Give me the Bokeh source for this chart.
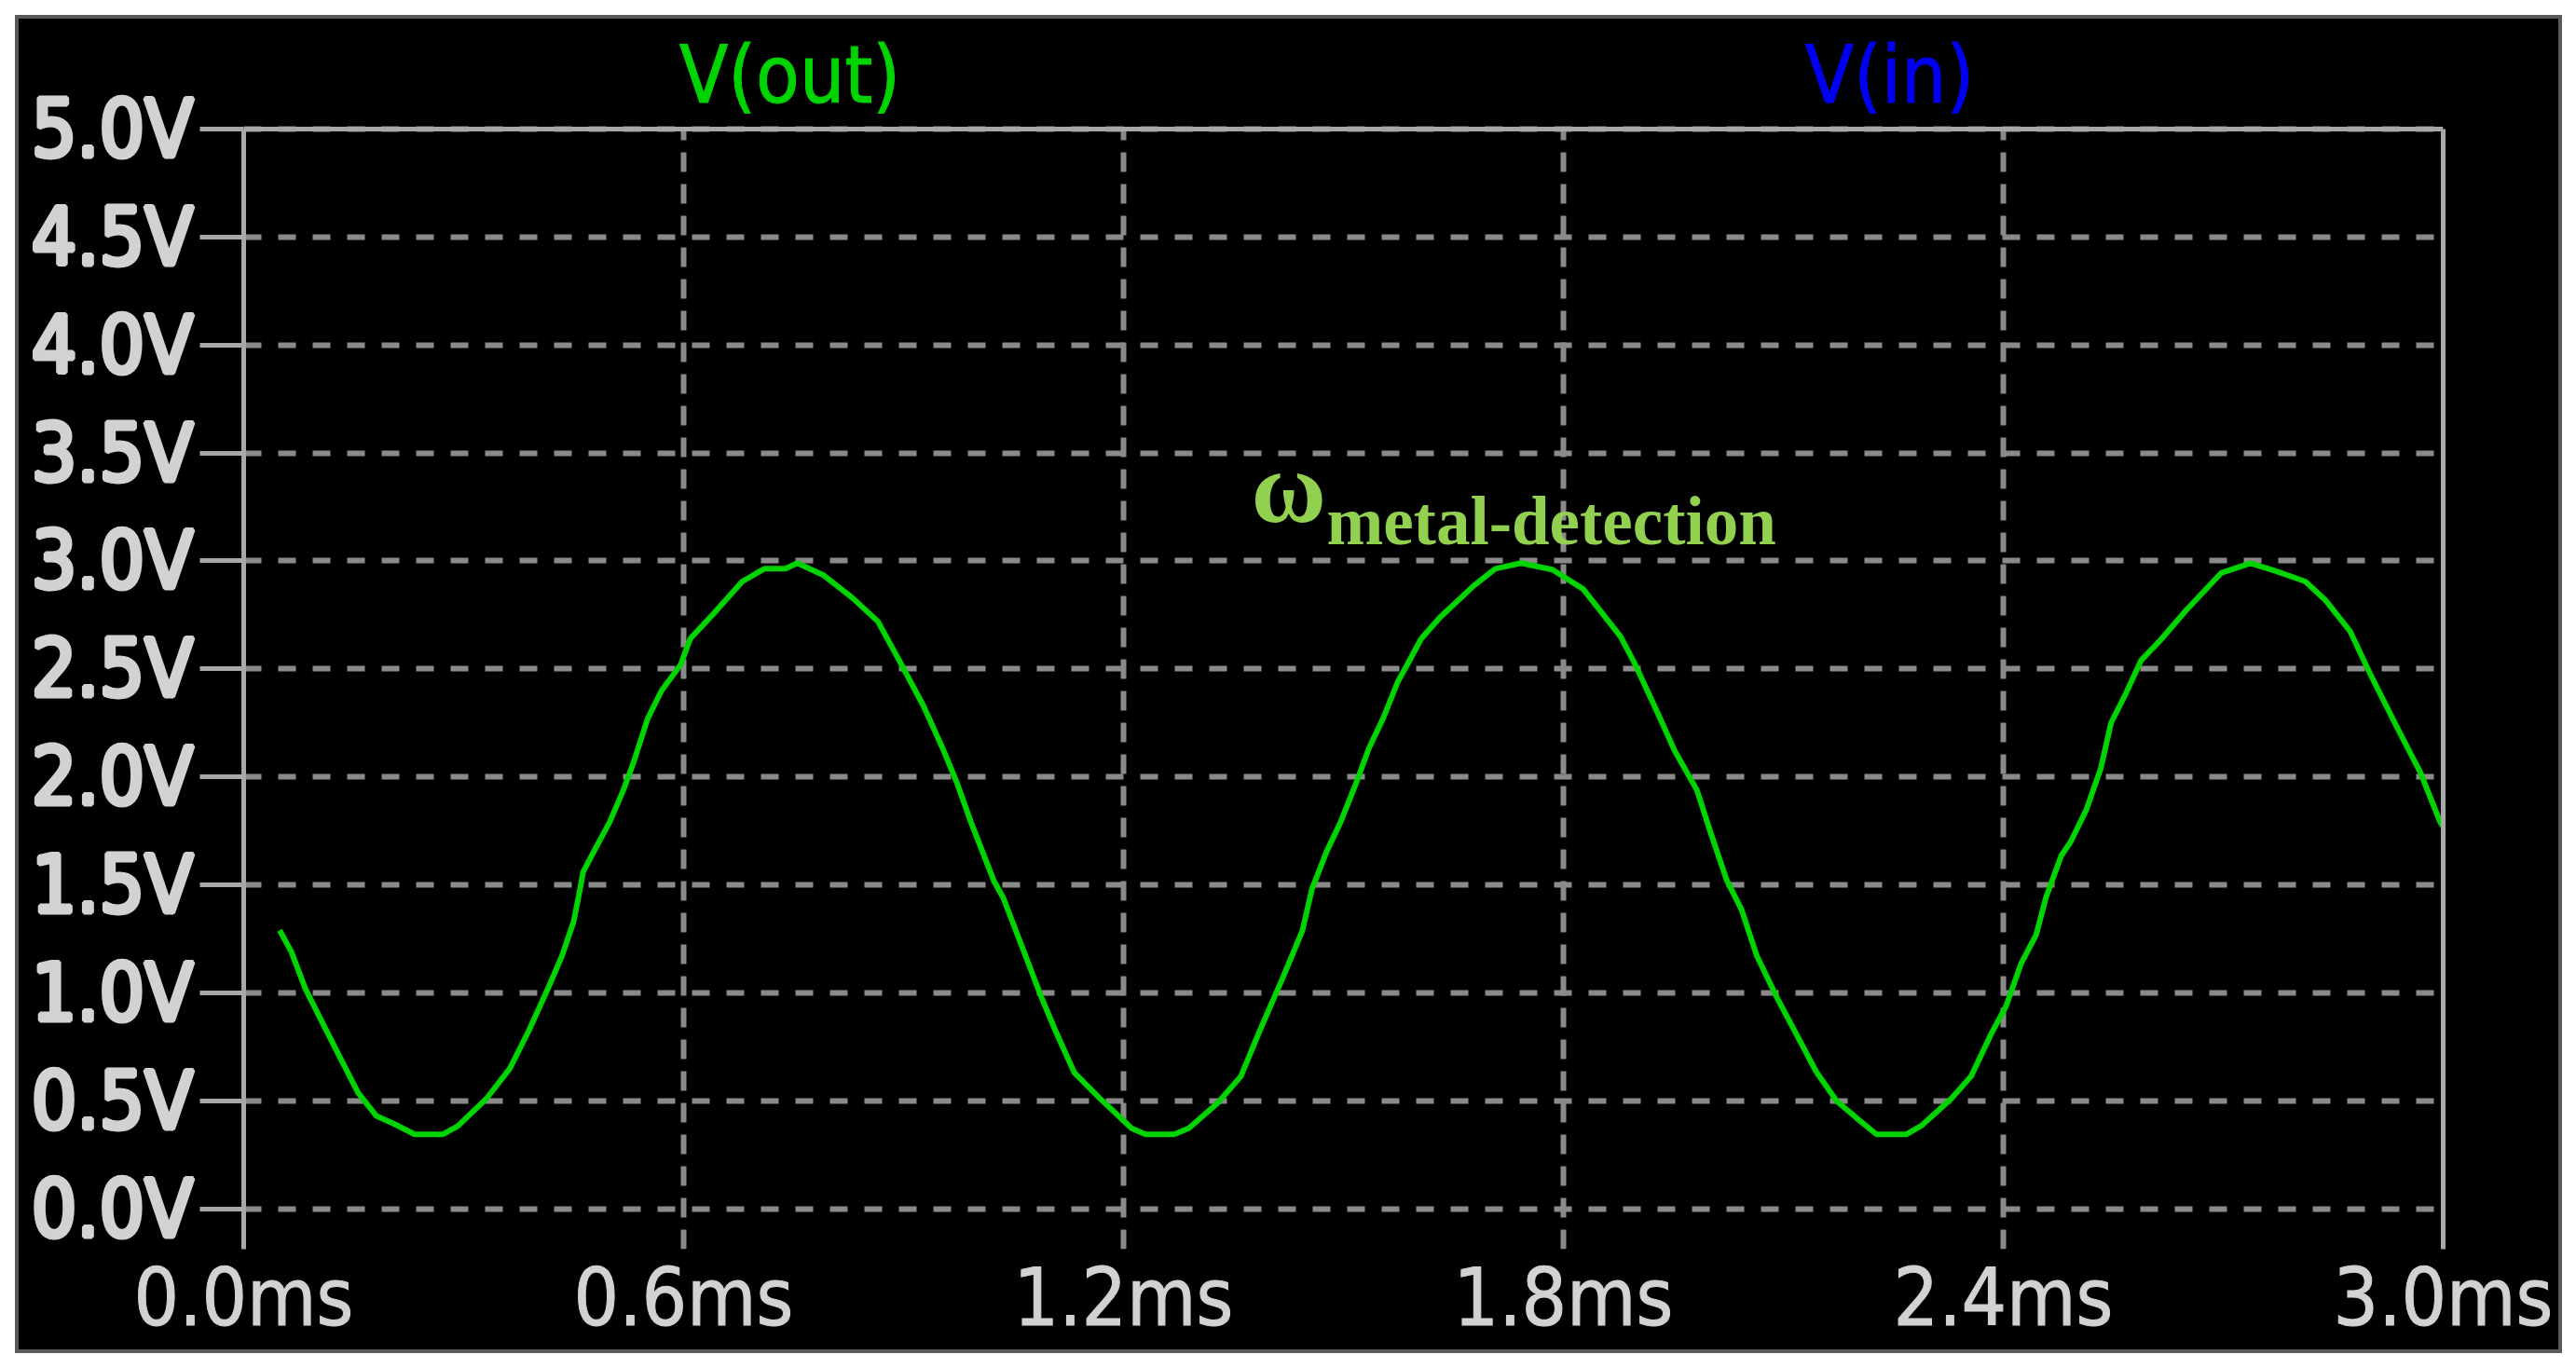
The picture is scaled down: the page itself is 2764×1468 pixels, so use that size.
from bokeh.plotting import figure
from bokeh.models import FixedTicker, Span, Label, Range1d, LinearAxis, Spacer
from bokeh.layouts import column, row
from bokeh.embed import file_html
from bokeh.resources import INLINE

# ---- data ----
t_ms = [0.049, 0.065, 0.084, 0.107, 0.130, 0.156, 0.181, 0.207, 0.233, 0.272,
        0.292, 0.331, 0.363, 0.389, 0.415, 0.434, 0.450, 0.457, 0.463, 0.480,
        0.499, 0.518, 0.531, 0.551, 0.570, 0.596, 0.609, 0.642, 0.680, 0.710,
        0.739, 0.755, 0.791, 0.830, 0.865, 0.894, 0.927, 0.953, 0.972, 0.992,
        1.023, 1.036, 1.062, 1.088, 1.107, 1.133, 1.166, 1.211, 1.230, 1.269,
        1.289, 1.328, 1.360, 1.386, 1.418, 1.444, 1.457, 1.477, 1.496, 1.516,
        1.535, 1.554, 1.574, 1.587, 1.606, 1.632, 1.678, 1.707, 1.742, 1.785,
        1.827, 1.878, 1.898, 1.924, 1.952, 1.982, 2.002, 2.023, 2.043, 2.064,
        2.091, 2.118, 2.145, 2.173, 2.200, 2.227, 2.268, 2.288, 2.329, 2.356,
        2.383, 2.404, 2.424, 2.445, 2.458, 2.479, 2.492, 2.513, 2.533, 2.547,
        2.567, 2.588, 2.615, 2.649, 2.697, 2.737, 2.771, 2.812, 2.839, 2.873,
        2.900, 2.934, 2.969, 2.996, 3.000]
v_out = [1.29, 1.19, 1.02, 0.864, 0.71, 0.537, 0.43, 0.39, 0.345, 0.345,
         0.383, 0.51, 0.65, 0.826, 1.02, 1.17, 1.33, 1.45, 1.56, 1.67,
         1.79, 1.94, 2.06, 2.27, 2.40, 2.52, 2.64, 2.76, 2.905, 2.964,
         2.964, 2.99, 2.934, 2.83, 2.72, 2.54, 2.33, 2.135, 1.98, 1.79,
         1.52, 1.44, 1.21, 0.98, 0.826, 0.63, 0.517, 0.373, 0.345, 0.345,
         0.373, 0.488, 0.613, 0.826, 1.076, 1.288, 1.48, 1.654, 1.79, 1.96,
         2.135, 2.27, 2.44, 2.52, 2.64, 2.74, 2.886, 2.964, 2.99, 2.96,
         2.87, 2.65, 2.52, 2.33, 2.12, 1.94, 1.73, 1.52, 1.385, 1.17,
         0.98, 0.807, 0.634, 0.498, 0.42, 0.345, 0.345, 0.384, 0.51, 0.613,
         0.807, 0.94, 1.134, 1.27, 1.44, 1.635, 1.70, 1.846, 2.04, 2.25,
         2.385, 2.54, 2.636, 2.77, 2.944, 2.99, 2.954, 2.905, 2.82, 2.675,
         2.48, 2.25, 2.02, 1.79, 1.77]

x_ticks = [0.0, 0.6, 1.2, 1.8, 2.4, 3.0]
x_tick_labels = ["0.0ms", "0.6ms", "1.2ms", "1.8ms", "2.4ms", "3.0ms"]
y_ticks = [0.0, 0.5, 1.0, 1.5, 2.0, 2.5, 3.0, 3.5, 4.0, 4.5, 5.0]
y_tick_labels = ["0.0V", "0.5V", "1.0V", "1.5V", "2.0V", "2.5V",
                 "3.0V", "3.5V", "4.0V", "4.5V", "5.0V"]
trace_names = ["V(out)", "V(in)"]
trace_colors = ["#00d400", "#0000f0"]
annotation_main = "\u03c9"
annotation_sub = "metal-detection"

x_min, x_max = 0.0, 3.0
y_min, y_axis_max = -0.187, 5.0
y_view_max = 5.4877   # frame reaches up to the trace-name strip

LABEL_FONT = "DejaVu Sans Condensed"
GRAY_TEXT = "#d2d2d2"
FRAME_GRAY = "#a8a8a8"
GRID_GRAY = "#8a8a8a"

p = figure(width=2725, height=1428, output_backend="svg", toolbar_location=None,
           x_range=Range1d(x_min, x_max), y_range=Range1d(y_min, y_view_max),
           min_border_left=241, min_border_right=124, min_border_top=5,
           min_border_bottom=108)
p.styles = {"outline": "4px solid #5a5a5a", "background-color": "black"}
p.background_fill_color = "black"
p.border_fill_color = "black"
p.outline_line_color = None

# x axis (labels only)
xax = p.below[0]
xax.ticker = FixedTicker(ticks=x_ticks)
xax.major_label_overrides = dict(zip(x_ticks, x_tick_labels))
xax.axis_line_color = None
xax.major_tick_line_color = None
xax.major_tick_out = 0
xax.major_tick_in = 0
xax.minor_tick_line_color = None
xax.major_label_standoff = 2
xax.major_label_text_font = LABEL_FONT
xax.major_label_text_font_size = "85px"
xax.major_label_text_color = GRAY_TEXT

# y axis
yax = p.left[0]
yax.ticker = FixedTicker(ticks=y_ticks)
yax.bounds = (y_min, y_axis_max)
yax.major_label_overrides = dict(zip(y_ticks, y_tick_labels))
yax.axis_line_color = FRAME_GRAY
yax.axis_line_width = 5
yax.major_tick_line_color = FRAME_GRAY
yax.major_tick_line_width = 5
yax.major_tick_out = 47
yax.major_tick_in = 0
yax.minor_tick_line_color = None
yax.major_label_standoff = 7
yax.major_label_text_font = LABEL_FONT
yax.major_label_text_font_size = "85px"
yax.major_label_text_color = GRAY_TEXT

# slightly heavier strokes for the raster-like LTspice font
for ax in (xax, yax):
    try:
        ax.major_label_text_outline_color = GRAY_TEXT
    except Exception:
        pass

# right frame line as a bare axis
right = LinearAxis(ticker=FixedTicker(ticks=[]), bounds=(y_min, y_axis_max),
                   axis_line_color=FRAME_GRAY, axis_line_width=5,
                   major_tick_line_color=None, minor_tick_line_color=None,
                   major_tick_out=0, major_tick_in=0,
                   major_label_text_font_size="0px")
p.add_layout(right, "right")

# grid
p.xgrid.grid_line_color = GRID_GRAY
p.xgrid.grid_line_width = 6
p.xgrid.grid_line_dash = "21 13"
p.ygrid.grid_line_color = GRID_GRAY
p.ygrid.grid_line_width = 6
p.ygrid.grid_line_dash = "19 18"
try:
    p.xgrid.cross_bounds = (y_min, y_axis_max)
except Exception:
    p.xgrid.visible = False
    inner = x_ticks[1:-1]
    p.segment(x0=inner, y0=[y_min] * len(inner), x1=inner, y1=[y_axis_max] * len(inner),
              line_color=GRID_GRAY, line_width=6, line_dash="21 13")

# solid top frame line
p.add_layout(Span(location=y_axis_max, dimension="width", line_color=FRAME_GRAY, line_width=5))

# trace
p.line(t_ms, v_out, line_color=trace_colors[0], line_width=6)

# trace names in the top strip
for name, color, xpos in zip(trace_names, trace_colors, [0.745, 2.245]):
    lbl = Label(x=xpos, y=5.25, text=name, text_align="center",
                text_baseline="alphabetic", text_font=LABEL_FONT,
                text_font_size="85px", text_color=color)
    try:
        lbl.text_outline_color = color
    except Exception:
        pass
    p.add_layout(lbl)

# annotation
p.add_layout(Label(x=1.374, y=3.34, text=annotation_main, text_align="left",
                   text_baseline="alphabetic", text_font="Liberation Serif",
                   text_font_style="bold", text_font_size="110px",
                   text_color="#92d050"))
p.add_layout(Label(x=1.477, y=3.185, text=annotation_sub, text_align="left",
                   text_baseline="alphabetic", text_font="Liberation Serif",
                   text_font_style="bold", text_font_size="73px",
                   text_color="#92d050"))

root = column(Spacer(height=20), row(Spacer(width=20), p))
open("out.html", "w").write(file_html(root, INLINE))
